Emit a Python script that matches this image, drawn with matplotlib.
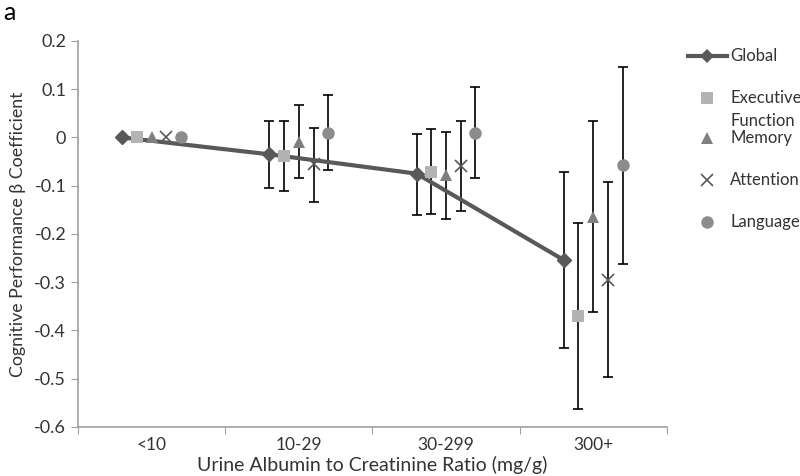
import numpy as np
import matplotlib
matplotlib.use("Agg")
import matplotlib.pyplot as plt
from matplotlib.lines import Line2D
from matplotlib.ticker import FixedLocator, NullFormatter

plt.rcParams['font.family'] = ['Lato', 'DejaVu Sans']

categories = ['<10', '10-29', '30-299', '300+']

# beta estimates and 95% CI per domain
global_b = [0.0, -0.035, -0.075, -0.254]
global_lo = [0.0, -0.104, -0.160, -0.437]
global_hi = [0.0, 0.035, 0.008, -0.072]

exec_b = [0.0, -0.038, -0.071, -0.369]
exec_lo = [0.0, -0.111, -0.159, -0.562]
exec_hi = [0.0, 0.035, 0.017, -0.178]

mem_b = [0.0, -0.010, -0.078, -0.165]
mem_lo = [0.0, -0.084, -0.170, -0.361]
mem_hi = [0.0, 0.067, 0.012, 0.034]

att_b = [0.0, -0.056, -0.059, -0.296]
att_lo = [0.0, -0.133, -0.152, -0.497]
att_hi = [0.0, 0.020, 0.034, -0.093]

lang_b = [0.0, 0.010, 0.010, -0.058]
lang_lo = [0.0, -0.067, -0.085, -0.262]
lang_hi = [0.0, 0.088, 0.104, 0.146]

series = [
    ('Global', global_b, global_lo, global_hi, 'D', '#595959', 7, -0.2),
    ('Executive\nFunction', exec_b, exec_lo, exec_hi, 's', '#b3b3b3', 9, -0.1),
    ('Memory', mem_b, mem_lo, mem_hi, '^', '#7f7f7f', 9, 0.0),
    ('Attention', att_b, att_lo, att_hi, 'x', '#595959', 9, 0.1),
    ('Language', lang_b, lang_lo, lang_hi, 'o', '#8c8c8c', 9, 0.2),
]

W, H = 800, 476
fig = plt.figure(figsize=(W / 100, H / 100), dpi=100)
ax = fig.add_axes([0.0975, 0.103, 0.736, 0.811])

x = np.arange(len(categories))
for name, b, lo, hi, mk, col, ms, off in series:
    b = np.array(b)
    yerr = np.vstack([b - np.array(lo), np.array(hi) - b])
    xs = x + off
    has = yerr.sum(axis=0) > 0
    ax.errorbar(xs[has], b[has], yerr=yerr[:, has], fmt='none', ecolor='black',
                elinewidth=1.2, capsize=3.3, capthick=1.2, zorder=2)
    if name == 'Global':
        ax.plot(xs, b, marker=mk, color=col, lw=3, ms=ms, zorder=3)
    else:
        ax.plot(xs, b, marker=mk, color=col, lw=0, ms=ms,
                mew=1.2 if mk == 'x' else 0, zorder=4)

ax.set_xlim(-0.5, 3.5)
ax.set_ylim(-0.6, 0.2)
ax.set_yticks(np.arange(-0.6, 0.21, 0.1))
ax.set_yticklabels(['-0.6', '-0.5', '-0.4', '-0.3', '-0.2', '-0.1', '0', '0.1', '0.2'])

ax.xaxis.set_major_locator(FixedLocator(np.arange(-0.5, 3.6, 1)))
ax.xaxis.set_major_formatter(NullFormatter())
ax.xaxis.set_minor_locator(FixedLocator(x))
ax.set_xticklabels(categories, minor=True)
ax.tick_params(axis='x', which='major', length=5, color='#a0a0a0', direction='out')
ax.tick_params(axis='x', which='minor', length=0, pad=7, labelsize=12.5, labelcolor='#333333')
ax.tick_params(axis='y', length=5, color='#a0a0a0', labelsize=13, labelcolor='#333333')

for s in ['top', 'right']:
    ax.spines[s].set_visible(False)
for s in ['left', 'bottom']:
    ax.spines[s].set_color('#a0a0a0')
    ax.spines[s].set_linewidth(1.2)

ax.set_xlabel('Urine Albumin to Creatinine Ratio (mg/g)', fontsize=14,
              color='#333333', labelpad=2)
ax.set_ylabel('Cognitive Performance β Coefficient', fontsize=12.8,
              color='#333333', labelpad=6)

# legend laid out by hand, the way the spreadsheet draws it
leg_y = [56, 98, 138, 180, 222]
for (name, b, lo, hi, mk, col, ms, off), py in zip(series, leg_y):
    fy = 1 - py / H
    if name == 'Global':
        fig.add_artist(Line2D([688 / W, 727 / W], [fy, fy], transform=fig.transFigure,
                              color=col, lw=3))
    fig.add_artist(Line2D([707 / W], [fy], transform=fig.transFigure, marker=mk,
                          color=col, lw=0, ms=ms, mew=1.2 if mk == 'x' else 0))
    lines = name.split('\n')
    for i, t in enumerate(lines):
        fig.text(730 / W, 1 - (py + 23 * i) / H, t, fontsize=12, color='#333333',
                 va='center', ha='left')

fig.text(0.004, 0.997, 'a', fontsize=18, va='top', ha='left')

fig.savefig('out.png', dpi=100)
